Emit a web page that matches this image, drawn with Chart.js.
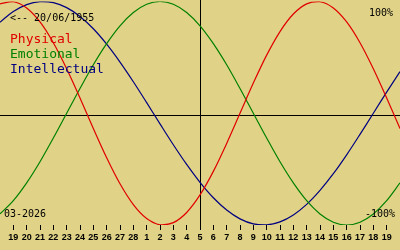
<!DOCTYPE html>
<html>
<head>
<meta charset="utf-8">
<script src="https://cdn.jsdelivr.net/npm/chart.js@4"></script>
<style>
  html, body { margin: 0; padding: 0; background: #e0d286; }
  canvas { display: block; }
</style>
</head>
<body>
<canvas id="bio" width="400" height="250"></canvas>
<script>
// days relative to 05/03/2026
var dayOffsets = [-15, -14, -13, -12, -11, -10, -9, -8, -7, -6, -5, -4, -3, -2, -1, 0,
                  1, 2, 3, 4, 5, 6, 7, 8, 9, 10, 11, 12, 13, 14, 15];
var tickLabels = ['19', '20', '21', '22', '23', '24', '25', '26', '27', '28',
                  '1', '2', '3', '4', '5', '6', '7', '8', '9', '10', '11', '12', '13', '14', '15', '16', '17', '18', '19'];

var physical = [0.979, 0.998, 0.942, 0.817, 0.631, 0.398, 0.136, -0.136, -0.398, -0.631, -0.817, -0.942, -0.998, -0.979, -0.888, -0.731,
                -0.520, -0.270, 0, 0.270, 0.520, 0.731, 0.888, 0.979, 0.998, 0.942, 0.817, 0.631, 0.398, 0.136, -0.136];
var emotional = [-0.901, -0.782, -0.623, -0.434, -0.222, 0, 0.222, 0.434, 0.623, 0.782, 0.901, 0.975, 1, 0.975, 0.901, 0.782,
                 0.623, 0.434, 0.222, 0, -0.222, -0.434, -0.623, -0.782, -0.901, -0.975, -1, -0.975, -0.901, -0.782, -0.623];
var intellectual = [0.815, 0.910, 0.972, 0.999, 0.990, 0.945, 0.866, 0.756, 0.618, 0.458, 0.282, 0.095, -0.095, -0.282, -0.458, -0.618,
                    -0.756, -0.866, -0.945, -0.990, -0.999, -0.972, -0.910, -0.815, -0.690, -0.541, -0.372, -0.189, 0, 0.189, 0.372];

var BG = '#e0d286';
var RED = '#e00000';
var GREEN = '#008000';
var BLUE = '#000080';

function toPoints(values) {
    return values.map(function (v, i) { return { x: dayOffsets[i], y: v }; });
}

var bioPlugin = {
    id: 'bio',
    beforeDraw: function (chart) {
        var ctx = chart.ctx;
        ctx.save();
        ctx.fillStyle = BG;
        ctx.fillRect(0, 0, chart.width, chart.height);
        ctx.restore();
    },
    beforeDatasetsDraw: function (chart) {
        var ctx = chart.ctx;
        var xs = chart.scales.x, ys = chart.scales.y;
        var x0 = Math.round(xs.getPixelForValue(0)) + 0.5;
        var y0 = Math.round(ys.getPixelForValue(0) + 2) + 0.5;
        ctx.save();
        ctx.strokeStyle = '#000';
        ctx.lineWidth = 1;
        ctx.beginPath();
        ctx.moveTo(0, y0);
        ctx.lineTo(chart.width, y0);
        ctx.moveTo(x0, 0);
        ctx.lineTo(x0, chart.chartArea.bottom + 3);
        ctx.stroke();
        ctx.restore();
    },
    afterDraw: function (chart) {
        var ctx = chart.ctx;
        ctx.save();
        ctx.textBaseline = 'alphabetic';
        ctx.fillStyle = '#000';
        ctx.font = '10px "DejaVu Sans Mono"';
        ctx.fillText('<-- 20/06/1955', 10, 21);
        ctx.fillText('100%', 369, 16);
        ctx.fillText('-100%', 365, 217);
        ctx.fillText('03-2026', 4, 217);

        ctx.font = '13px "DejaVu Sans Mono"';
        chart.data.datasets.forEach(function (ds, i) {
            ctx.fillStyle = ds.borderColor;
            ctx.fillText(ds.label, 10, 43 + i * 15);
        });
        ctx.restore();
    }
};

new Chart(document.getElementById('bio'), {
    type: 'line',
    data: {
        datasets: [
            { label: 'Physical', data: toPoints(physical), borderColor: RED },
            { label: 'Emotional', data: toPoints(emotional), borderColor: GREEN },
            { label: 'Intellectual', data: toPoints(intellectual), borderColor: BLUE }
        ]
    },
    options: {
        responsive: false,
        animation: false,
        devicePixelRatio: 1,
        layout: { padding: { top: 1.5, left: 0, right: 0, bottom: 0 } },
        elements: {
            line: { borderWidth: 1.2, tension: 0.33, fill: false },
            point: { radius: 0 }
        },
        scales: {
            x: {
                type: 'linear',
                position: 'bottom',
                min: -15,
                max: 15,
                afterBuildTicks: function (scale) {
                    scale.ticks = scale.ticks.filter(function (t) { return Math.abs(t.value) <= 14; });
                },
                afterFit: function (scale) { scale.height = 25; },
                border: { display: false },
                grid: { drawOnChartArea: false, drawTicks: true, tickLength: 5, color: '#000', lineWidth: 1 },
                ticks: {
                    stepSize: 1,
                    autoSkip: false,
                    maxRotation: 0,
                    padding: 2,
                    color: '#000',
                    font: { family: '"Liberation Sans"', size: 9, weight: 'bold' },
                    callback: function (value) { return tickLabels[value + 14]; }
                }
            },
            y: {
                display: false,
                min: -1,
                max: 1
            }
        },
        plugins: {
            legend: { display: false },
            tooltip: { enabled: false }
        }
    },
    plugins: [bioPlugin]
});
</script>
</body>
</html>
